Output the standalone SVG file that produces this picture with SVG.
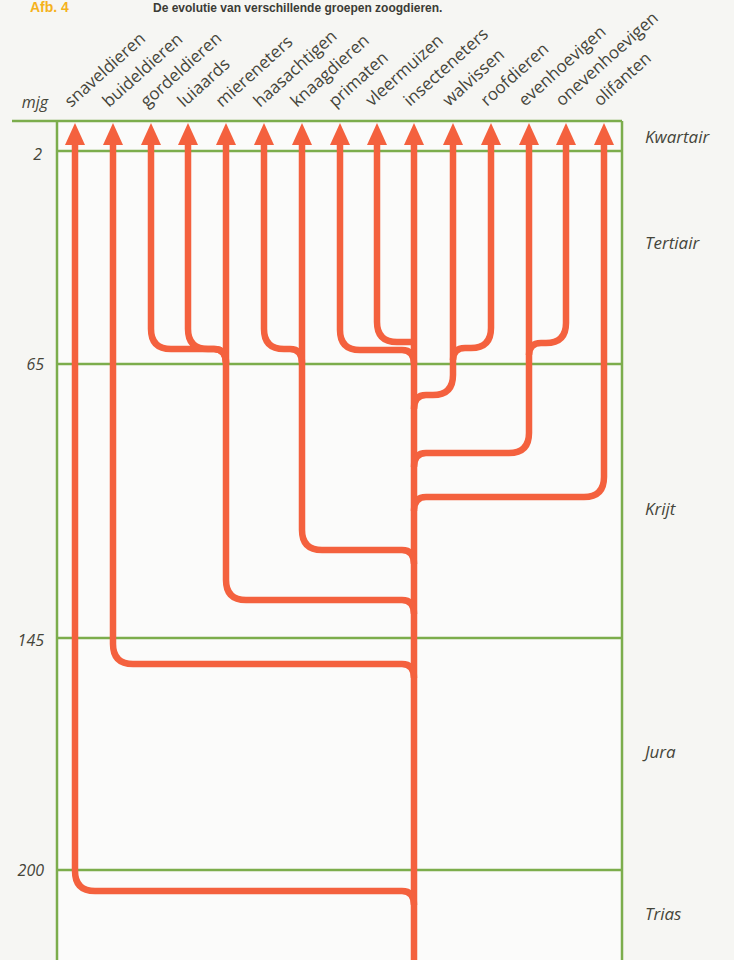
<svg xmlns="http://www.w3.org/2000/svg" width="734" height="960" viewBox="0 0 734 960">
<style>
.grid{stroke:#7cad4c;stroke-width:2.5;fill:none}
.br{stroke:#f4613e;stroke-width:6.5;fill:none;stroke-linejoin:round}
.ah{fill:#f4613e}
.tx{font-family:"Open Sans","Liberation Sans",sans-serif;font-size:17px;font-weight:500;fill:#45453a}
.per{font-family:"Open Sans","Liberation Sans",sans-serif;font-size:17px;font-style:italic;fill:#45453a}
.num{font-family:"Open Sans","Liberation Sans",sans-serif;font-size:16px;font-style:italic;fill:#45453a;text-anchor:end}
.cap{font-family:"Liberation Sans",sans-serif;font-size:12px;font-weight:bold;fill:#3c3c36}
</style>
<rect x="0" y="0" width="734" height="960" fill="#f6f6f3"/>
<rect x="57" y="121" width="565" height="839" fill="#fbfbfa"/>
<text class="cap" x="30" y="12" style="fill:#f5b21c;font-size:14px">Afb. 4</text>
<text class="cap" x="153" y="12">De evolutie van verschillende groepen zoogdieren.</text>

<g id="grid">
<path class="grid" d="M12,121 H622 M57,121 V960 M622,121 V960 M57,151 H622 M57,364 H622 M57,638 H622 M57,870 H622"/>
</g>

<g id="axis">
<text class="num" x="48" y="108">mjg</text>
<text class="num" x="42" y="160">2</text>
<text class="num" x="44" y="370">65</text>
<text class="num" x="44" y="646">145</text>
<text class="num" x="44" y="876">200</text>
</g>

<g id="periods">
<text class="per" x="645" y="143">Kwartair</text>
<text class="per" x="645" y="249">Tertiair</text>
<text class="per" x="645" y="515">Krijt</text>
<text class="per" x="645" y="758">Jura</text>
<text class="per" x="645" y="920">Trias</text>
</g>

<g id="connectors">
<path class="br" d="M414,143 V960"/>
<path class="br" d="M75,143 V871 Q75,891 95,891 H402 Q414,891 414,905"/>
<path class="br" d="M113,143 V644 Q113,664 133,664 H402 Q414,664 414,678"/>
<path class="br" d="M226,143 V580 Q226,600 246,600 H402 Q414,600 414,614"/>
<path class="br" d="M151,143 V329 Q151,349 171,349 H214 Q226,349 226,363"/>
<path class="br" d="M188,143 V329 Q188,349 208,349 H214 Q226,349 226,363"/>
<path class="br" d="M302,143 V530 Q302,550 322,550 H402 Q414,550 414,564"/>
<path class="br" d="M264,143 V329 Q264,349 284,349 H290 Q302,349 302,363"/>
<path class="br" d="M340,143 V330 Q340,350 360,350 H402 Q414,350 414,364"/>
<path class="br" d="M377,143 V322 Q377,342 397,342 H414"/>
<path class="br" d="M453,143 V375 Q453,395 433,395 H426 Q414,395 414,409"/>
<path class="br" d="M491,143 V328 Q491,348 471,348 H465 Q453,348 453,360"/>
<path class="br" d="M529,143 V433 Q529,453 509,453 H426 Q414,453 414,467"/>
<path class="br" d="M566,143 V323 Q566,343 546,343 H541 Q529,343 529,355"/>
<path class="br" d="M604,143 V477 Q604,497 584,497 H426 Q414,497 414,511"/>
</g>

<g id="snaveldieren"><polygon class="ah" points="75,123 85,145 65,145"/><text class="tx" transform="translate(71,108) rotate(-42)">snaveldieren</text></g>
<g id="buideldieren"><polygon class="ah" points="113,123 123,145 103,145"/><text class="tx" transform="translate(109,108) rotate(-42)">buideldieren</text></g>
<g id="gordeldieren"><polygon class="ah" points="151,123 161,145 141,145"/><text class="tx" transform="translate(147,108) rotate(-42)">gordeldieren</text></g>
<g id="luiaards"><polygon class="ah" points="188,123 198,145 178,145"/><text class="tx" transform="translate(184,108) rotate(-42)">luiaards</text></g>
<g id="miereneters"><polygon class="ah" points="226,123 236,145 216,145"/><text class="tx" transform="translate(222,108) rotate(-42)">miereneters</text></g>
<g id="haasachtigen"><polygon class="ah" points="264,123 274,145 254,145"/><text class="tx" transform="translate(260,108) rotate(-42)">haasachtigen</text></g>
<g id="knaagdieren"><polygon class="ah" points="302,123 312,145 292,145"/><text class="tx" transform="translate(297,108) rotate(-42)">knaagdieren</text></g>
<g id="primaten"><polygon class="ah" points="340,123 350,145 330,145"/><text class="tx" transform="translate(335,108) rotate(-42)">primaten</text></g>
<g id="vleermuizen"><polygon class="ah" points="377,123 387,145 367,145"/><text class="tx" transform="translate(372,107) rotate(-42)">vleermuizen</text></g>
<g id="insecteneters"><polygon class="ah" points="414,123 424,145 404,145"/><text class="tx" transform="translate(410,107) rotate(-42)">insecteneters</text></g>
<g id="walvissen"><polygon class="ah" points="453,123 463,145 443,145"/><text class="tx" transform="translate(449,107) rotate(-42)">walvissen</text></g>
<g id="roofdieren"><polygon class="ah" points="491,123 501,145 481,145"/><text class="tx" transform="translate(487,107) rotate(-42)">roofdieren</text></g>
<g id="evenhoevigen"><polygon class="ah" points="529,123 539,145 519,145"/><text class="tx" transform="translate(525,107) rotate(-42)">evenhoevigen</text></g>
<g id="onevenhoevigen"><polygon class="ah" points="566,123 576,145 556,145"/><text class="tx" transform="translate(562,107) rotate(-42)">onevenhoevigen</text></g>
<g id="olifanten"><polygon class="ah" points="604,123 614,145 594,145"/><text class="tx" transform="translate(600,107) rotate(-42)">olifanten</text></g>
</svg>
